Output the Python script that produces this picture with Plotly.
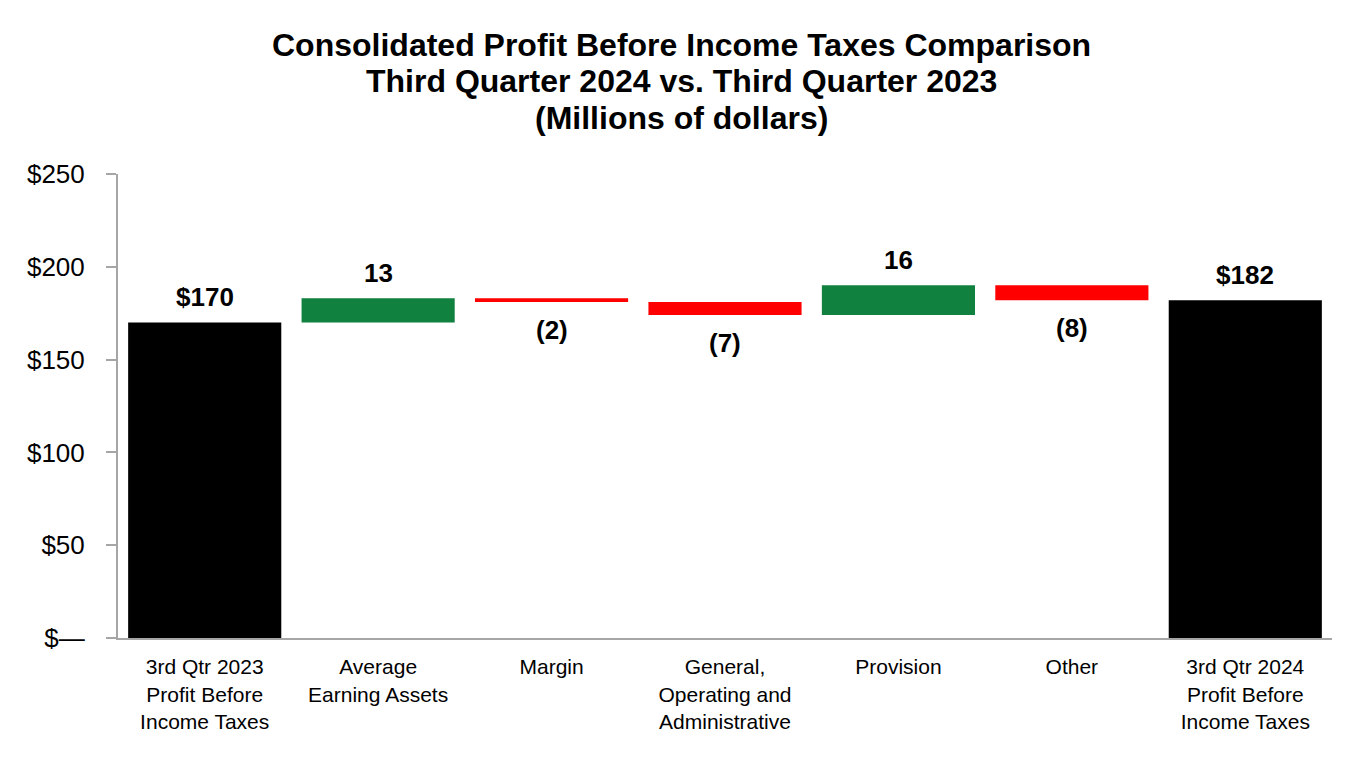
import plotly.graph_objects as go

categories = [
    "3rd Qtr 2023<br>Profit Before<br>Income Taxes",
    "Average<br>Earning Assets",
    "Margin",
    "General,<br>Operating and<br>Administrative",
    "Provision",
    "Other",
    "3rd Qtr 2024<br>Profit Before<br>Income Taxes",
]
values = [170, 13, -2, -7, 16, -8, 182]
measures = ["absolute", "relative", "relative", "relative", "relative", "relative", "total"]
labels = ["$170", "13", "(2)", "(7)", "16", "(8)", "$182"]

tick_vals = [0, 50, 100, 150, 200, 250]
tick_text = ["$—", "$50", "$100", "$150", "$200", "$250"]

title_lines = [
    "Consolidated Profit Before Income Taxes Comparison",
    "Third Quarter 2024 vs. Third Quarter 2023",
    "(Millions of dollars)",
]

FONT = "Liberation Sans, Arial, sans-serif"
GRAY = "#A6A6A6"

W, H = 1346, 744
L, R, T, B = 110, 22, 166, 114
plot_h = H - T - B
plot_w = W - L - R

fig = go.Figure()
fig.add_trace(go.Waterfall(
    x=categories,
    y=values,
    measure=measures,
    increasing=dict(marker=dict(color="#11813F")),
    decreasing=dict(marker=dict(color="#FF0000")),
    totals=dict(marker=dict(color="#000000")),
    connector=dict(visible=False),
    hoverinfo="skip",
    textposition="none",
))

# value labels placed at bar ends computed from the data
cum = 0
for cat, v, m, lab in zip(categories, values, measures, labels):
    if m == "absolute":
        cum = v
        end, above = v, True
    elif m == "total":
        end, above = cum, True
    else:
        cum += v
        end, above = cum, v >= 0
    fig.add_annotation(
        x=cat, y=end, text=f"<b>{lab}</b>", showarrow=False,
        yanchor="bottom" if above else "top",
        yshift=8 if above else -11,
        font=dict(family=FONT, size=26, color="#000000"),
    )

# title lines (tighter line spacing than plotly's default)
title_px = [36.5, 73, 110]
title_cx = 673.5
for line, ypx in zip(title_lines, title_px):
    fig.add_annotation(
        xref="paper", yref="paper",
        x=(title_cx - L) / plot_w, y=(H - B - ypx) / plot_h,
        text=f"<b>{line}</b>", showarrow=False,
        xanchor="center", yanchor="middle",
        font=dict(family=FONT, size=32, color="#000000"),
    )

fig.update_layout(
    width=W, height=H,
    paper_bgcolor="white", plot_bgcolor="white",
    margin=dict(l=L, r=R, t=T, b=B, autoexpand=False),
    showlegend=False,
    waterfallgap=0.117,
    xaxis=dict(
        showline=True, linecolor=GRAY, linewidth=2,
        ticks="", showgrid=False, zeroline=False,
        tickfont=dict(family=FONT, size=21, color="#000000"),
        ticklabelstandoff=9,
    ),
    yaxis=dict(
        range=[0, 250], tickvals=tick_vals, ticktext=tick_text,
        showline=True, linecolor=GRAY, linewidth=2,
        ticks="outside", ticklen=10, tickcolor=GRAY, tickwidth=2,
        showgrid=False, zeroline=False,
        tickfont=dict(family=FONT, size=26, color="#000000"),
        ticklabelstandoff=16,
    ),
)

fig.write_html("out.html")
